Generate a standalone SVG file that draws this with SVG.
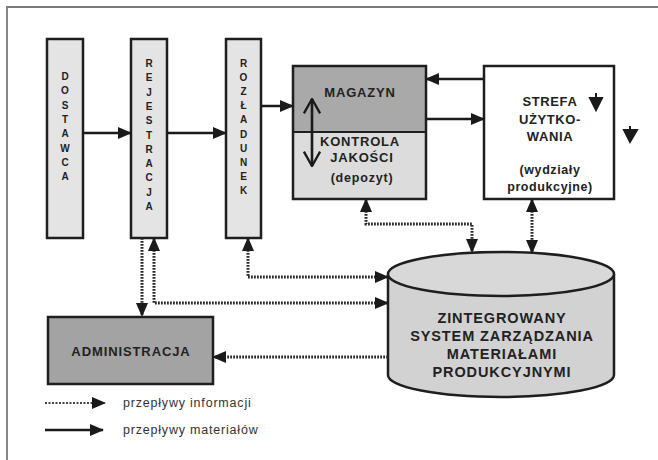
<svg xmlns="http://www.w3.org/2000/svg" width="658" height="460" viewBox="0 0 658 460">
<defs>
<marker id="ah" viewBox="0 0 14 12" refX="13" refY="6" markerWidth="14" markerHeight="12" markerUnits="userSpaceOnUse" orient="auto-start-reverse">
<path d="M0,0 L14,6 L0,12 Z" fill="#1a1a1a"/>
</marker>
<marker id="ahs" viewBox="0 0 14 12" refX="13" refY="6" markerWidth="14" markerHeight="12" markerUnits="userSpaceOnUse" orient="auto-start-reverse">
<path d="M0,0 L14,6 L0,12 Z" fill="#1a1a1a"/>
</marker>
<marker id="chev" viewBox="0 0 20 20" refX="19" refY="10" markerWidth="18" markerHeight="20" markerUnits="userSpaceOnUse" orient="auto-start-reverse">
<path d="M3,1 L19,10 L3,19" fill="none" stroke="#1a1a1a" stroke-width="2.6"/>
</marker>
</defs>
<style>
.box{stroke:#1e1e1e;stroke-width:2.5}
.t{font-family:"Liberation Sans",Arial,sans-serif;font-weight:bold;fill:#222;text-anchor:middle}
.v{font-family:"Liberation Sans",Arial,sans-serif;font-weight:bold;font-size:10px;fill:#222;text-anchor:middle}
.solid{stroke:#1a1a1a;stroke-width:2.5;fill:none}
.dot{stroke:#2a2a2a;stroke-width:3;stroke-dasharray:1.8 1.2;fill:none}
.leg{font-family:"Liberation Sans",Arial,sans-serif;font-size:12.5px;fill:#333;letter-spacing:0.8px}
</style>
<rect width="658" height="460" fill="#ffffff"/>
<path d="M7,460 V7 H658" fill="none" stroke="#7a7a7a" stroke-width="1.8"/>

<g id="dostawca">
<rect class="box" x="47" y="39" width="36" height="199" fill="#e4e4e4"/>
<text class="v" x="65" y="80"><tspan x="65">D</tspan><tspan x="65" dy="14.3">O</tspan><tspan x="65" dy="14.3">S</tspan><tspan x="65" dy="14.3">T</tspan><tspan x="65" dy="14.3">A</tspan><tspan x="65" dy="14.3">W</tspan><tspan x="65" dy="14.3">C</tspan><tspan x="65" dy="14.3">A</tspan></text>
</g>
<g id="rejestracja">
<rect class="box" x="131" y="39" width="36" height="199" fill="#e4e4e4"/>
<text class="v" x="149" y="67"><tspan x="149">R</tspan><tspan x="149" dy="14.3">E</tspan><tspan x="149" dy="14.3">J</tspan><tspan x="149" dy="14.3">E</tspan><tspan x="149" dy="14.3">S</tspan><tspan x="149" dy="14.3">T</tspan><tspan x="149" dy="14.3">R</tspan><tspan x="149" dy="14.3">A</tspan><tspan x="149" dy="14.3">C</tspan><tspan x="149" dy="14.3">J</tspan><tspan x="149" dy="14.3">A</tspan></text>
</g>
<g id="rozladunek">
<rect class="box" x="226" y="39" width="35" height="199" fill="#e4e4e4"/>
<text class="v" x="243.5" y="67"><tspan x="243.5">R</tspan><tspan x="243.5" dy="14.1">O</tspan><tspan x="243.5" dy="14.1">Z</tspan><tspan x="243.5" dy="14.1">Ł</tspan><tspan x="243.5" dy="14.1">A</tspan><tspan x="243.5" dy="14.1">D</tspan><tspan x="243.5" dy="14.1">U</tspan><tspan x="243.5" dy="14.1">N</tspan><tspan x="243.5" dy="14.1">E</tspan><tspan x="243.5" dy="14.1">K</tspan></text>
</g>
<g id="magazyn">
<rect x="293" y="66" width="133" height="66" fill="#a9a9a9"/>
<rect x="293" y="132" width="133" height="67" fill="#dcdcdc"/>
<rect class="box" x="293" y="66" width="133" height="133" fill="none"/>
<line x1="293" y1="132" x2="426" y2="132" stroke="#1e1e1e" stroke-width="2"/>
<line x1="312" y1="99" x2="312" y2="166" stroke="#1a1a1a" stroke-width="2.6" marker-start="url(#chev)" marker-end="url(#chev)"/>
<g class="t" font-size="13" letter-spacing="0.8">
<text x="360" y="97">MAGAZYN</text>
<text x="360" y="146">KONTROLA</text>
<text x="362" y="162">JAKOŚCI</text>
<text x="362" y="182" font-size="12.5">(depozyt)</text>
</g>
</g>
<g id="strefa">
<rect class="box" x="484" y="66" width="130" height="133" fill="#ffffff"/>
<g class="t" font-size="13" letter-spacing="0.6">
<text x="550" y="106">STREFA</text>
<text x="550" y="124">UŻYTKO-</text>
<text x="550" y="141">WANIA</text>
<text x="550" y="174" font-size="12.5">(wydziały</text>
<text x="550" y="191" font-size="12.5">produkcyjne)</text>
</g>
<path d="M596,93 V99 M590,98 L602,98 L596,110 Z" fill="#1a1a1a" stroke="#1a1a1a" stroke-width="2"/>
<path d="M630,126 V131 M624,130 L637,130 L630,142 Z" fill="#1a1a1a" stroke="#1a1a1a" stroke-width="2"/>
</g>
<g id="administracja">
<rect class="box" x="48" y="317" width="165" height="67" fill="#a3a3a3"/>
<text class="t" x="131" y="356" font-size="13" letter-spacing="0.9">ADMINISTRACJA</text>
</g>
<g id="system">
<path class="box" d="M388,274 V375 A113,22 0 0 0 614,375 V274" fill="#d2d2d2"/>
<ellipse class="box" cx="501" cy="274" rx="113" ry="22" fill="#d8d8d8"/>
<g class="t" font-size="14.5" letter-spacing="0.9">
<text x="502" y="323">ZINTEGROWANY</text>
<text x="502" y="341">SYSTEM ZARZĄDZANIA</text>
<text x="502" y="359">MATERIAŁAMI</text>
<text x="502" y="377">PRODUKCYJNYMI</text>
</g>
</g>
<g id="connectors">
<line class="solid" x1="83" y1="133" x2="131" y2="133" marker-end="url(#ahs)"/>
<line class="solid" x1="167" y1="133" x2="226" y2="133" marker-end="url(#ahs)"/>
<line class="solid" x1="261" y1="106" x2="293" y2="106" marker-end="url(#ahs)"/>
<line class="solid" x1="484" y1="79" x2="426" y2="79" marker-end="url(#ahs)"/>
<line class="solid" x1="426" y1="119" x2="484" y2="119" marker-end="url(#ahs)"/>
<polyline class="dot" points="366,199 366,224 472,224 472,252" marker-start="url(#ah)" marker-end="url(#ah)"/>
<line class="dot" x1="532" y1="199" x2="532" y2="253" marker-start="url(#ah)" marker-end="url(#ah)"/>
<polyline class="dot" points="248,238 248,277 388,277" marker-start="url(#ah)" marker-end="url(#ah)"/>
<polyline class="dot" points="154,238 154,303 388,303" marker-start="url(#ah)" marker-end="url(#ah)"/>
<line class="dot" x1="142" y1="238" x2="142" y2="316" marker-end="url(#ah)"/>
<line class="dot" x1="388" y1="357" x2="213" y2="357" marker-end="url(#ah)"/>
</g>
<g id="legend">
<line x1="45" y1="403" x2="105" y2="403" stroke="#444" stroke-width="1.8" stroke-dasharray="2 1.5" marker-end="url(#ah)"/>
<line x1="45" y1="430" x2="103" y2="430" stroke="#1a1a1a" stroke-width="2.5" marker-end="url(#ahs)"/>
<text class="leg" x="123" y="407">przepływy informacji</text>
<text class="leg" x="123" y="434">przepływy materiałów</text>
</g>
</svg>
